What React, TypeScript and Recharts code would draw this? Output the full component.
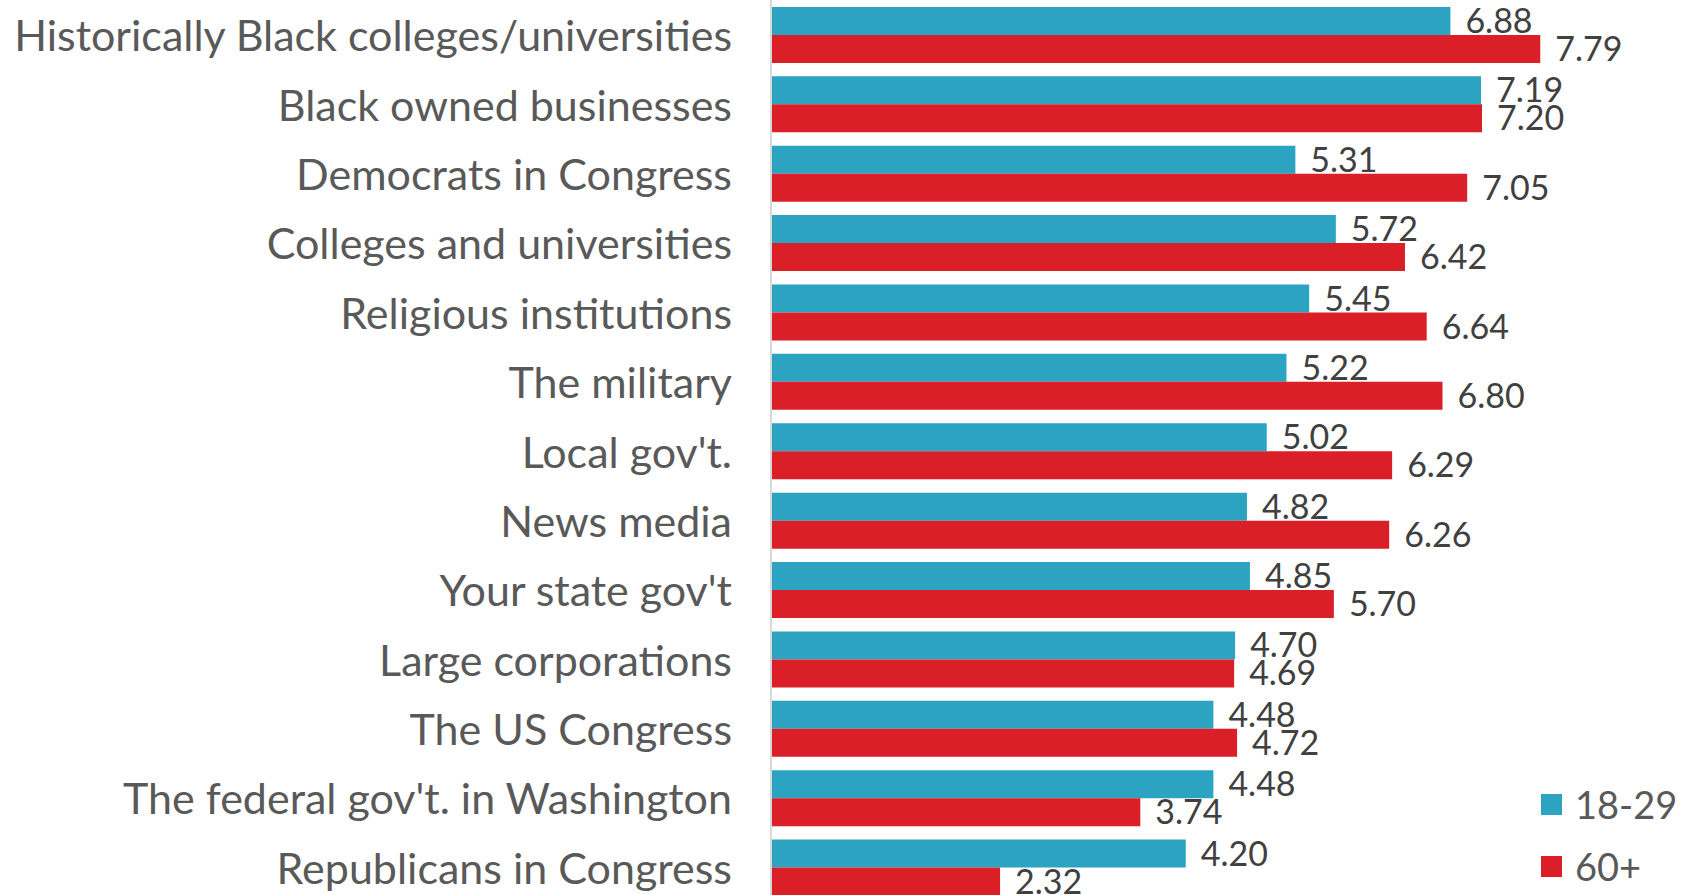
import { BarChart, Bar, XAxis, YAxis, LabelList, Legend } from "recharts";

const categories = [
  "Historically Black colleges/universities",
  "Black owned businesses",
  "Democrats in Congress",
  "Colleges and universities",
  "Religious institutions",
  "The military",
  "Local gov't.",
  "News media",
  "Your state gov't",
  "Large corporations",
  "The US Congress",
  "The federal gov't. in Washington",
  "Republicans in Congress",
];

const young = [6.88, 7.19, 5.31, 5.72, 5.45, 5.22, 5.02, 4.82, 4.85, 4.7, 4.48, 4.48, 4.2];
const old = [7.79, 7.2, 7.05, 6.42, 6.64, 6.8, 6.29, 6.26, 5.7, 4.69, 4.72, 3.74, 2.32];

const TEAL = "#2ca3c0";
const RED = "#da1f28";
const FONT = "Lato, 'Open Sans', sans-serif";

const data = categories.map((name, i) => ({ name, young: young[i], old: old[i] }));

function CategoryTick({ x, y, payload }: any) {
  return (
    <text
      x={x - 31}
      y={y}
      textAnchor="end"
      dominantBaseline="central"
      fill="#595959"
      fontSize={43}
      fontFamily={FONT}
    >
      {payload.value}
    </text>
  );
}

function LegendBox() {
  const items = [
    { label: "18-29", color: TEAL },
    { label: "60+", color: RED },
  ];
  return (
    <div style={{ fontFamily: FONT }}>
      {items.map((it) => (
        <div key={it.label} style={{ display: "flex", alignItems: "center", height: 62 }}>
          <span style={{ width: 21, height: 21, background: it.color, marginRight: 13 }} />
          <span style={{ fontSize: 38, color: "#595959" }}>{it.label}</span>
        </div>
      ))}
    </div>
  );
}

export default function App() {
  return (
    <div
      style={{
        position: "absolute",
        top: 0,
        left: 0,
        width: 1703,
        height: 895,
        overflow: "hidden",
        background: "#fff",
      }}
    >
      <BarChart
        width={1703}
        height={902}
        data={data}
        layout="vertical"
        margin={{ top: 0, right: 142, bottom: 0, left: 0 }}
        barCategoryGap="10%"
        barGap={0}
      >
        <XAxis type="number" domain={[0, 8]} hide />
        <YAxis
          type="category"
          dataKey="name"
          width={771}
          tickLine={false}
          axisLine={{ stroke: "#d9d9d9", strokeWidth: 2 }}
          tick={<CategoryTick />}
          interval={0}
        />
        <Legend
          layout="vertical"
          align="center"
          verticalAlign="middle"
          content={<LegendBox />}
          wrapperStyle={{ left: 1541, top: 773, width: 160 }}
        />
        <Bar dataKey="young" fill={TEAL} isAnimationActive={false}>
          <LabelList
            dataKey="young"
            position="right"
            offset={15}
            formatter={(v: any) => Number(v).toFixed(2)}
            fill="#404040"
            fontSize={34}
            fontFamily={FONT}
          />
        </Bar>
        <Bar dataKey="old" fill={RED} isAnimationActive={false}>
          <LabelList
            dataKey="old"
            position="right"
            offset={15}
            formatter={(v: any) => Number(v).toFixed(2)}
            fill="#404040"
            fontSize={34}
            fontFamily={FONT}
          />
        </Bar>
      </BarChart>
    </div>
  );
}
